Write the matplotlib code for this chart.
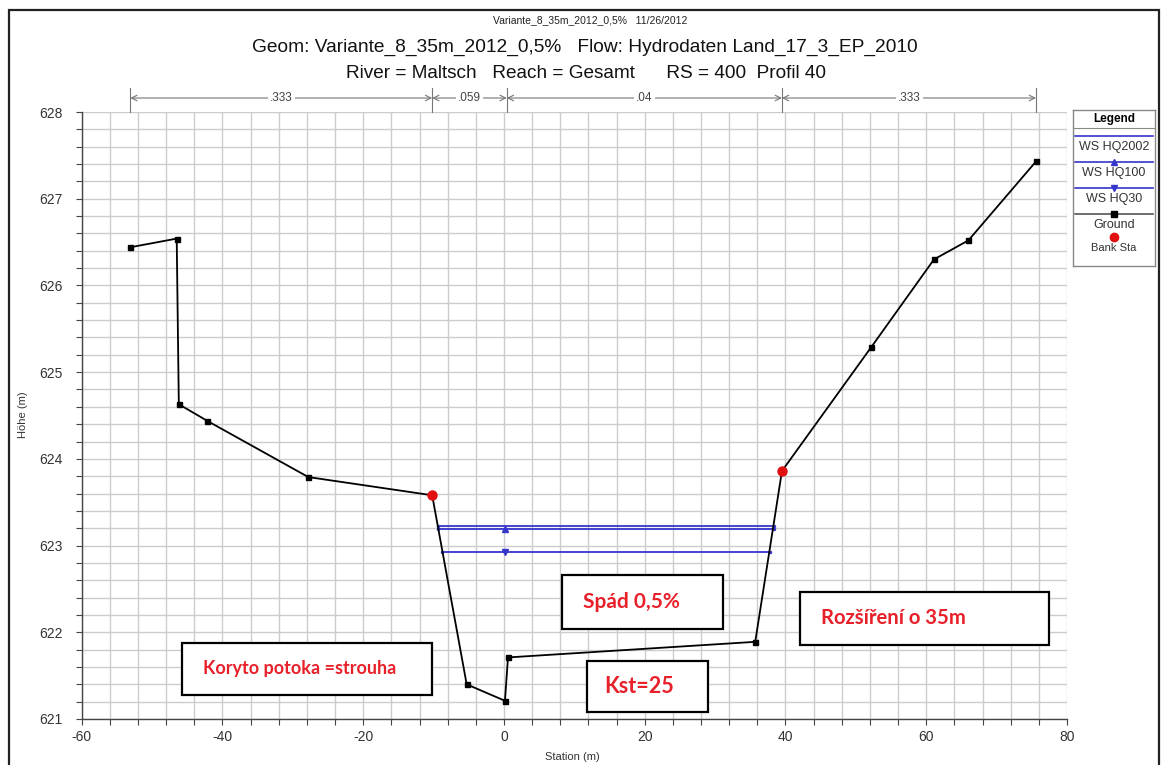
import matplotlib
matplotlib.use("Agg")
import matplotlib.pyplot as plt
from matplotlib.patches import Rectangle
import matplotlib.transforms as mtransforms

# ---------------- data ----------------
ground_station = [-53.1, -46.5, -46.2, -42.2, -27.8, -10.2, -5.3, 0.14, 0.57, 35.7, 39.5, 52.2, 61.1, 66.0, 75.6]
ground_elev = [626.44, 626.54, 624.63, 624.44, 623.79, 623.58, 621.40, 621.21, 621.71, 621.89, 623.86, 625.29, 626.30, 626.52, 627.43]

bank_station = [-10.2, 39.5]
bank_elev = [623.58, 623.86]

ws_names = ["WS HQ2002", "WS HQ100", "WS HQ30"]
ws_elev = [623.22, 623.19, 622.93]
ws_left = [-9.4, -9.4, -8.8]
ws_mid = [0.14, 0.14, 0.14]
ws_right = [38.3, 38.3, 37.8]
ws_markers = [None, "^", "v"]

n_stations = [-53.1, -10.2, 0.4, 39.5, 75.6]
n_values = [".333", ".059", ".04", ".333"]

xticks = [-60, -40, -20, 0, 20, 40, 60, 80]
yticks = [621, 622, 623, 624, 625, 626, 627, 628]

title_small = "Variante_8_35m_2012_0,5%   11/26/2012"
title_main = "Geom: Variante_8_35m_2012_0,5%   Flow: Hydrodaten Land_17_3_EP_2010"
title_sub = "River = Maltsch   Reach = Gesamt      RS = 400  Profil 40"

notes = ["Spád 0,5%", "Rozšíření o 35m", "Koryto potoka =strouha", "Kst=25"]
note_sizes = [15, 14.6, 13, 15.5]
# box extents in data coords (x0, x1, y0, y1)
note_boxes = [(8.2, 31.1, 622.04, 622.66), (42.0, 77.5, 621.85, 622.47),
              (-45.8, -10.2, 621.28, 621.88), (11.8, 29.0, 621.08, 621.67)]
note_offsets = [3.0, 3.1, 3.1, 2.4]

# ---------------- figure ----------------
W, H = 1161, 765
fig = plt.figure(figsize=(W / 100, H / 100), dpi=100)
FONT = ["Liberation Sans", "DejaVu Sans"]
plt.rcParams["font.family"] = FONT


def fx(px):
    return px / W


def fy(py):
    return 1 - py / H


# outer frame
fig.patches.append(Rectangle((fx(9), fy(775)), fx(1150), (775 - 10) / H,
                             transform=fig.transFigure, fill=False, lw=1.6,
                             edgecolor="#222222"))

ax = fig.add_axes([fx(81.7), fy(719), fx(1067 - 81.7), (719 - 112) / H])
ax.set_xlim(-60, 80)
ax.set_ylim(621, 628)

# grid
ax.set_xticks(range(-60, 81, 4), minor=True)
ax.set_yticks([621 + 0.2 * i for i in range(36)], minor=True)
ax.set_xticks(xticks)
ax.set_yticks(yticks)
ax.set_xticklabels([str(t) for t in xticks])
ax.set_yticklabels([str(t) for t in yticks])
ax.grid(True, which="both", color="#cccccc", lw=1.0)
ax.set_axisbelow(True)
ax.tick_params(which="both", direction="out", length=4, color="#444444",
               labelsize=10, labelcolor="#333333", width=0.8)
ax.tick_params(axis="y", pad=10)
ax.tick_params(axis="x", pad=4)
for s in ["top", "right"]:
    ax.spines[s].set_visible(False)
for s in ["left", "bottom"]:
    ax.spines[s].set_color("#444444")
    ax.spines[s].set_linewidth(1.0)

ax.set_xlabel("Station (m)", fontsize=8, color="#333333")
ax.set_ylabel("Höhe (m)", fontsize=8, color="#333333")
ax.xaxis.set_label_coords((572 - 81.7) / 985.3, -(752 - 719) / 607)
ax.yaxis.set_label_coords(-(81.7 - 28) / 985.3, (719 - 415) / 607)

# water surfaces
ws_color = "#3535cc"
for name, e, l, m, r, mk in zip(ws_names, ws_elev, ws_left, ws_mid, ws_right, ws_markers):
    ax.plot([l, m, r], [e, e, e], color=ws_color, lw=1.3, marker=mk, ms=4,
            markevery=[1] if mk else None, zorder=3)
    ax.plot([l, r], [e, e], ls="none", marker=".", ms=3, color=ws_color, zorder=3)

# ground
ax.plot(ground_station, ground_elev, color="black", lw=1.3, marker="s", ms=3.6, zorder=4)
ax.plot(bank_station, bank_elev, ls="none", marker="o", ms=6.5, color="#e01010", zorder=5)

# Manning's n dimension line
trans = mtransforms.blended_transform_factory(ax.transData, ax.transAxes)
y_dim = 1 + 14 / 607
for s in n_stations:
    ax.plot([s, s], [1.0, 1 + 24 / 607], transform=trans, color="#777777", lw=0.8,
            clip_on=False)
for a, b, lab in zip(n_stations[:-1], n_stations[1:], n_values):
    ax.annotate("", xy=(a, y_dim), xytext=(b, y_dim), xycoords=trans, textcoords=trans,
                arrowprops=dict(arrowstyle="<->,head_length=0.4,head_width=0.2",
                                color="#777777", lw=0.8, shrinkA=0, shrinkB=0))
    ax.text((a + b) / 2, y_dim, lab, transform=trans, ha="center", va="center",
            fontsize=8.5, color="#444444",
            bbox=dict(facecolor="white", edgecolor="none", pad=1.5))

# annotation boxes
for txt, fs, off, (x0, x1, y0, y1) in zip(notes, note_sizes, note_offsets, note_boxes):
    ax.add_patch(Rectangle((x0, y0), x1 - x0, y1 - y0, facecolor="white",
                           edgecolor="black", lw=1.6, zorder=6))
    ax.text(x0 + off, (y0 + y1) / 2, txt, ha="left", va="center",
            fontsize=fs, fontweight="bold", color="#e8202a",
            family=["Lato", "DejaVu Sans"], zorder=7)

# titles
fig.text(fx(590), fy(20), title_small, ha="center", va="center", fontsize=7.5, color="#222222")
fig.text(fx(585), fy(47), title_main, ha="center", va="center", fontsize=13.8, color="#111111")
fig.text(fx(586), fy(73), title_sub, ha="center", va="center", fontsize=13.7, color="#111111")

# legend
lax = fig.add_axes([fx(1073), fy(266), fx(82), 156 / H])
lax.set_xlim(0, 82)
lax.set_ylim(156, 0)
lax.set_xticks([])
lax.set_yticks([])
for s in lax.spines.values():
    s.set_color("#888888")
    s.set_linewidth(1.0)
lax.plot([0, 82], [18, 18], color="#888888", lw=0.8)
lax.text(41, 9, "Legend", ha="center", va="center", fontsize=8.5, fontweight="bold")
entries = [(ws_names[0], ws_color, None), (ws_names[1], ws_color, "^"),
           (ws_names[2], ws_color, "v"), ("Ground", "#555555", "s")]
for i, (lab, c, mk) in enumerate(entries):
    yl = 26 + 26 * i
    lax.plot([2, 80], [yl, yl], color=c, lw=1.2)
    if mk:
        lax.plot([41], [yl], marker=mk, ms=4, color=c if mk != "s" else "black")
    lax.text(41, yl + 11, lab, ha="center", va="center", fontsize=9, color="#333333")
lax.plot([41], [127], marker="o", ms=6, color="#e01010")
lax.text(41, 138, "Bank Sta", ha="center", va="center", fontsize=8, color="#333333")

fig.savefig("out.png", dpi=100)
